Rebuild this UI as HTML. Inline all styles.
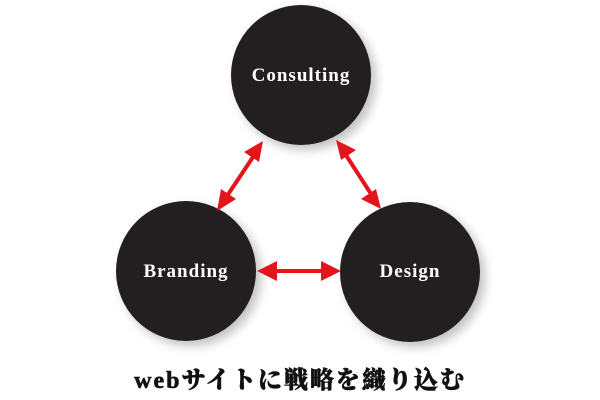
<!DOCTYPE html>
<html><head><meta charset="utf-8"><style>
html,body{margin:0;padding:0;background:#fff;width:600px;height:400px;overflow:hidden}
svg{position:absolute;left:0;top:0}
.cap{position:absolute;left:0;width:600px;top:360px;text-align:center;font-family:"Liberation Serif","Noto Serif CJK SC",serif;font-weight:900;font-size:24px;letter-spacing:2px;color:#111;-webkit-text-stroke:0.6px #111}
</style></head><body>
<svg width="600" height="400" xmlns="http://www.w3.org/2000/svg">
<defs>
<filter id="sh" x="-30%" y="-30%" width="160%" height="160%"><feGaussianBlur stdDeviation="5"/></filter>
</defs>
<g fill="#999" opacity="0.6" filter="url(#sh)">
<circle cx="306" cy="80" r="70"/><circle cx="191" cy="276" r="70"/><circle cx="415" cy="277" r="70"/>
</g>
<g fill="#231f20">
<circle cx="301" cy="75" r="70"/><circle cx="186" cy="271" r="70"/><circle cx="410" cy="272" r="70"/>
</g>
<g stroke="#e3151b" stroke-width="4" fill="#e3151b">
<line x1="255" y1="154" x2="225" y2="199"/>
<polygon points="263,141 244,152 259,162" stroke="none"/>
<polygon points="217,211 221,189 236,199" stroke="none"/>
<line x1="344" y1="152" x2="373" y2="197"/>
<polygon points="336,140 356,150 341,160" stroke="none"/>
<polygon points="381,209 361,199 376,189" stroke="none"/>
<line x1="270" y1="271" x2="327" y2="271"/>
<polygon points="257,271 277,261 277,281" stroke="none"/>
<polygon points="341,271 321,261 321,281" stroke="none"/>
</g>
<g fill="#fff" font-family="Liberation Serif, serif" font-weight="bold" font-size="19" letter-spacing="1" text-anchor="middle">
<text x="301" y="81">Consulting</text>
<text x="186" y="277">Branding</text>
<text x="410" y="277">Design</text>
</g>
</svg>
<div class="cap">webサイトに戦略を織り込む</div>
</body></html>
